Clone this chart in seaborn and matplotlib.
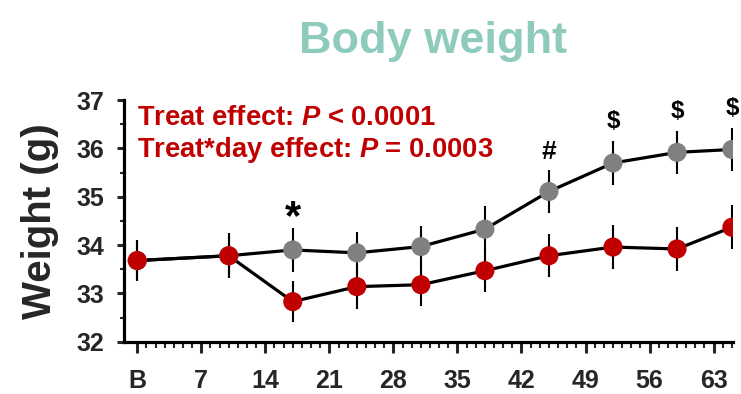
import matplotlib
matplotlib.use("Agg")
import matplotlib.pyplot as plt
import numpy as np
import pandas as pd
import seaborn as sns

# Body weight over the study (days after baseline "B")
days = [0, 10, 17, 24, 31, 38, 45, 52, 59, 65]
ctrl_weight = [33.68, 33.78, 33.90, 33.84, 33.97, 34.33, 35.11, 35.70, 35.92, 35.98]
ctrl_sem = [0.43, 0.47, 0.45, 0.44, 0.43, 0.47, 0.44, 0.45, 0.44, 0.45]
treat_weight = [33.68, 33.78, 32.83, 33.14, 33.18, 33.47, 33.78, 33.96, 33.92, 34.37]
treat_sem = [0.43, 0.47, 0.43, 0.46, 0.45, 0.45, 0.45, 0.45, 0.45, 0.45]

x_ticks = [0, 7, 14, 21, 28, 35, 42, 49, 56, 63]
x_tick_labels = ["B", "7", "14", "21", "28", "35", "42", "49", "56", "63"]
y_ticks = [32, 33, 34, 35, 36, 37]

sig_days = [17, 45, 52, 59, 65]
sig_marks = ["*", "#", "$", "$", "$"]

stats_lines = ["Treat effect: $P$ < 0.0001", "Treat*day effect: $P$ = 0.0003"]

RED = "#c00000"
GREY = "#808080"
TEAL = "#8fcbbc"

sns.set_style("ticks")
plt.rcParams["font.family"] = ["Liberation Sans", "DejaVu Sans"]
plt.rcParams["font.weight"] = "bold"
plt.rcParams["mathtext.fontset"] = "custom"
plt.rcParams["mathtext.rm"] = "Liberation Sans:bold"
plt.rcParams["mathtext.it"] = "Liberation Sans:italic:bold"
plt.rcParams["mathtext.bf"] = "Liberation Sans:bold"

df = pd.concat([
    pd.DataFrame({"day": days, "weight": ctrl_weight, "sem": ctrl_sem, "group": "Control"}),
    pd.DataFrame({"day": days, "weight": treat_weight, "sem": treat_sem, "group": "Treated"}),
], ignore_index=True)

fig = plt.figure(figsize=(7.41, 3.94), dpi=100)
ax = fig.add_axes([0.1667, 0.1327, 0.8229, 0.6130])

for grp, col in [("Control", GREY), ("Treated", RED)]:
    sub = df[df["group"] == grp]
    ax.errorbar(sub["day"], sub["weight"], yerr=sub["sem"], fmt="none",
                ecolor="black", elinewidth=1.5, capsize=0, zorder=2)
    sns.lineplot(data=sub, x="day", y="weight", color="black", linewidth=2.3,
                 ax=ax, zorder=3, legend=False)
    sns.scatterplot(data=sub, x="day", y="weight", color=col, s=190,
                    edgecolor="none", ax=ax, zorder=4, legend=False)

# significance marks above the control error bars
mark_style = {"*": (30, 7), "#": (19, 13), "$": (17.5, 14)}
ctrl_lookup = dict(zip(days, zip(ctrl_weight, ctrl_sem)))
for d, m in zip(sig_days, sig_marks):
    w, s = ctrl_lookup[d]
    size, off = mark_style[m]
    ax.annotate(m, (d, w + s), xytext=(0, off), textcoords="offset points",
                ha="center", va="center", fontsize=size, fontweight="bold",
                color="black", annotation_clip=False)

ax.set_xlim(-1.5, 65.15)
ax.set_ylim(32, 37)
ax.set_xticks(x_ticks)
ax.set_xticklabels(x_tick_labels)
ax.set_yticks(y_ticks)
ax.set_xticks([d for d in range(1, 66) if d % 7 != 0], minor=True)
ax.set_yticks([32.5, 33.5, 34.5, 35.5, 36.5], minor=True)

ax.tick_params(axis="x", which="major", length=8, width=2.2, pad=12, labelsize=18)
ax.tick_params(axis="x", which="minor", length=4, width=1.5)
ax.tick_params(axis="y", which="major", length=5, width=2.2, pad=9, labelsize=18)
ax.tick_params(axis="y", which="minor", length=3, width=1.5)
for lab in ax.get_xticklabels() + ax.get_yticklabels():
    lab.set_fontweight("bold")

sns.despine(ax=ax)
for side in ("left", "bottom"):
    ax.spines[side].set_linewidth(2.3)
    ax.spines[side].set_color("black")
    ax.spines[side].set_capstyle("projecting")

ax.set_xlabel("")
ax.set_ylabel("Weight (g)", fontsize=29, fontweight="bold")
ax.yaxis.set_label_coords(-0.105, 0.5)

for line, ypos in zip(stats_lines, [0.897, 0.766]):
    ax.text(0.022, ypos, line, transform=ax.transAxes, ha="left", va="baseline",
            fontsize=19.7, fontweight="bold", color=RED)

fig.text(433 / 741, 1 - 41 / 394, "Body weight", ha="center", va="center",
         fontsize=32.5, fontweight="bold", color=TEAL)

fig.savefig("out.png", dpi=100)
